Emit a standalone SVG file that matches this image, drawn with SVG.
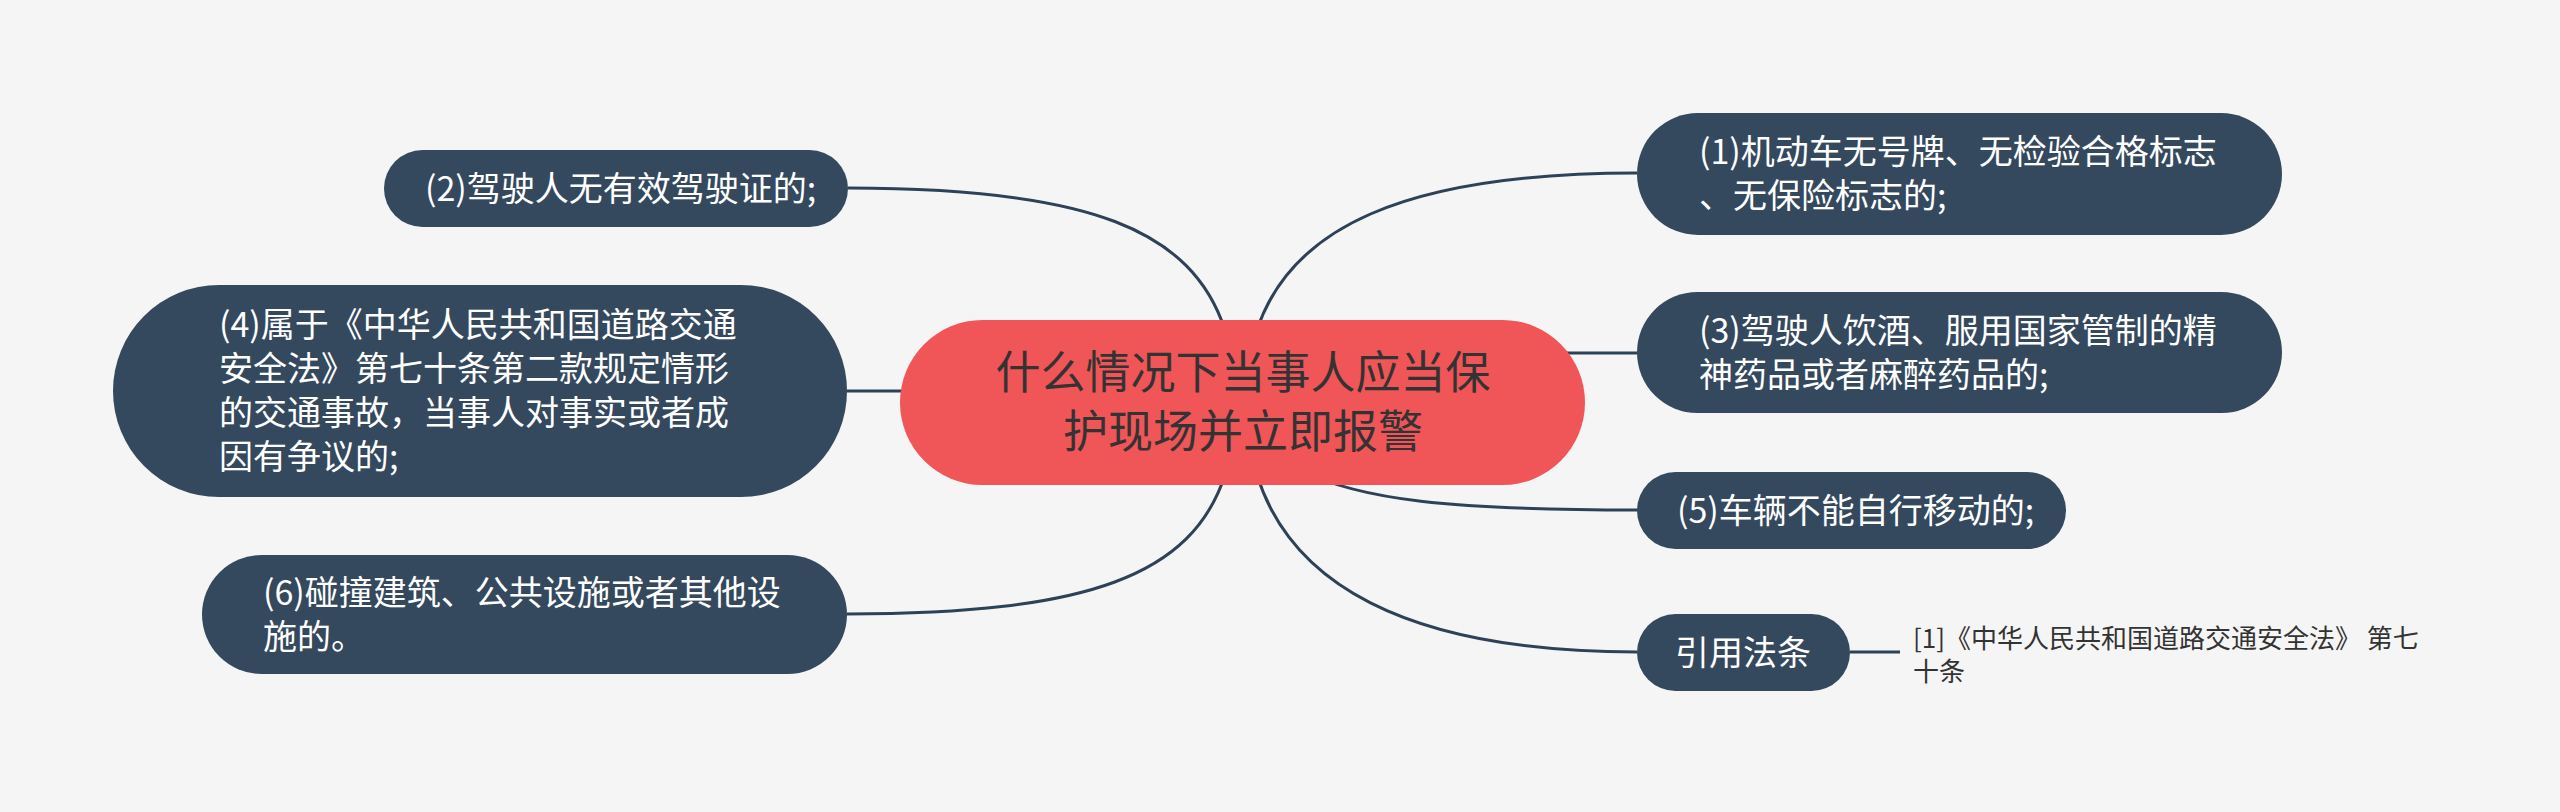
<svg xmlns="http://www.w3.org/2000/svg" width="2560" height="812" viewBox="0 0 2560 812">
<style>
.bg{fill:#F5F5F5}
.edge{fill:none;stroke:#2E4257;stroke-width:3}
.node{fill:#34495E}
.root{fill:#F05557}
.t{font-family:"Noto Sans CJK SC","Microsoft YaHei",sans-serif;font-size:34px;fill:#FFFFFF}
.rt{font-family:"Noto Sans CJK SC","Microsoft YaHei",sans-serif;font-size:45px;fill:#333333;text-anchor:middle}
.nt{font-family:"Noto Sans CJK SC","Microsoft YaHei",sans-serif;font-size:26px;fill:#333333}
</style>
<rect class="bg" x="0" y="0" width="2560" height="812"/>
<g id="connectors">
<path class="edge" d="M1257 330 C1290 230 1400 173 1637 173"/>
<path class="edge" d="M1225 330 C1192 230 1090 188 848 188"/>
<path class="edge" d="M847 391 L910 391"/>
<path class="edge" d="M1225 475 C1192 575 1090 614 847 614"/>
<path class="edge" d="M1540 353 L1637 353"/>
<path class="edge" d="M1300 470 C1360 500 1450 510 1637 510"/>
<path class="edge" d="M1257 475 C1290 580 1400 652 1637 652"/>
<path class="edge" d="M1850 652 L1900 652"/>
</g>
<g id="root">
<rect class="root" x="900" y="320" width="685" height="165" rx="82.5"/>
<text class="rt" x="1243" y="389">什么情况下当事人应当保</text>
<text class="rt" x="1243" y="448">护现场并立即报警</text>
</g>
<g id="n1">
<rect class="node" x="1637" y="113" width="645" height="122" rx="61"/>
<text class="t" x="1699" y="164">(1)机动车无号牌、无检验合格标志</text>
<text class="t" x="1699" y="208">、无保险标志的;</text>
</g>
<g id="n3">
<rect class="node" x="1637" y="292" width="645" height="121" rx="60.5"/>
<text class="t" x="1699" y="343">(3)驾驶人饮酒、服用国家管制的精</text>
<text class="t" x="1699" y="387">神药品或者麻醉药品的;</text>
</g>
<g id="n5">
<rect class="node" x="1637" y="472" width="429" height="77" rx="38.5"/>
<text class="t" x="1677" y="523">(5)车辆不能自行移动的;</text>
</g>
<g id="ref">
<rect class="node" x="1637" y="614" width="213" height="77" rx="38.5"/>
<text class="t" x="1743" y="665" text-anchor="middle">引用法条</text>
</g>
<g id="note">
<text class="nt" x="1913" y="648">[1]《中华人民共和国道路交通安全法》 第七</text>
<text class="nt" x="1913" y="681">十条</text>
</g>
<g id="n2">
<rect class="node" x="384" y="150" width="464" height="77" rx="38.5"/>
<text class="t" x="425" y="201">(2)驾驶人无有效驾驶证的;</text>
</g>
<g id="n4">
<rect class="node" x="113" y="285" width="734" height="212" rx="106"/>
<text class="t" x="219" y="337">(4)属于《中华人民共和国道路交通</text>
<text class="t" x="219" y="381">安全法》第七十条第二款规定情形</text>
<text class="t" x="219" y="425">的交通事故，当事人对事实或者成</text>
<text class="t" x="219" y="469">因有争议的;</text>
</g>
<g id="n6">
<rect class="node" x="202" y="555" width="645" height="119" rx="59.5"/>
<text class="t" x="263" y="605">(6)碰撞建筑、公共设施或者其他设</text>
<text class="t" x="263" y="649">施的。</text>
</g>
</svg>
